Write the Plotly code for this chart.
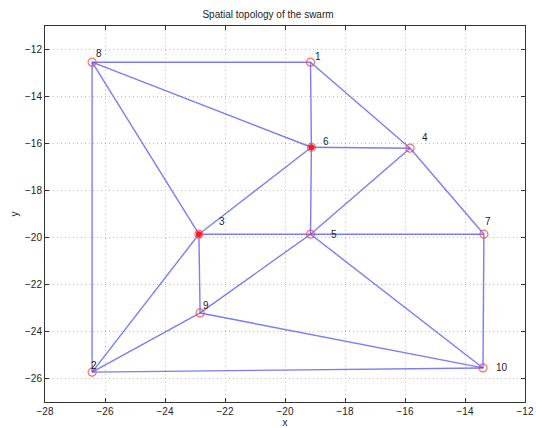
import plotly.graph_objects as go

# Agent positions in the swarm
node_ids = ["1", "2", "3", "4", "5", "6", "7", "8", "9", "10"]
node_x = [-19.15, -26.43, -22.87, -15.83, -19.15, -19.12, -13.37, -26.43, -22.83, -13.40]
node_y = [-12.54, -25.73, -19.86, -16.20, -19.86, -16.16, -19.86, -12.54, -23.21, -25.55]

# Communication links between agents (by id)
edges = [
    ("8", "1"), ("8", "6"), ("8", "3"), ("8", "2"),
    ("1", "6"), ("1", "4"),
    ("6", "4"), ("6", "3"), ("6", "5"),
    ("4", "5"), ("4", "7"),
    ("3", "5"), ("5", "7"), ("3", "9"), ("3", "2"),
    ("5", "9"), ("5", "10"),
    ("7", "10"),
    ("9", "2"), ("9", "10"),
    ("2", "10"),
]

# Agents drawn with a filled marker
filled_ids = ["3", "6"]

# Label offsets in pixels (dx, dy upward)
label_shift = {
    "1": (7, 6), "2": (2, 7), "3": (23, 13), "4": (15, 11), "5": (23, 0),
    "6": (15, 6), "7": (4, 13), "8": (7, 9), "9": (6, 7), "10": (19, 0),
}

pos = {n: (x, y) for n, x, y in zip(node_ids, node_x, node_y)}

fig = go.Figure()

ex, ey = [], []
for a, b in edges:
    ex += [pos[a][0], pos[b][0], None]
    ey += [pos[a][1], pos[b][1], None]
fig.add_trace(go.Scatter(x=ex, y=ey, mode="lines",
                         line=dict(color="rgba(80,80,240,0.75)", width=1.4),
                         hoverinfo="skip", showlegend=False))

fig.add_trace(go.Scatter(x=node_x, y=node_y, mode="markers",
                         marker=dict(symbol="circle-open", size=8,
                                     color="rgba(255,60,60,0.75)",
                                     line=dict(width=1.2)),
                         showlegend=False))

fx = [pos[n][0] for n in filled_ids]
fy = [pos[n][1] for n in filled_ids]
fig.add_trace(go.Scatter(x=fx, y=fy, mode="markers",
                         marker=dict(symbol="circle", size=6, color="rgb(240,30,40)"),
                         showlegend=False))

for n in node_ids:
    dx, dy = label_shift[n]
    fig.add_annotation(x=pos[n][0], y=pos[n][1], text=n, showarrow=False,
                       xshift=dx, yshift=dy,
                       font=dict(family="Liberation Sans, Arial", size=10, color="#222"))

axis_common = dict(
    showgrid=True, gridcolor="#bdbdbd", griddash="1px,3px", gridwidth=1,
    zeroline=False, showline=True, linecolor="#333", linewidth=1, mirror="ticks",
    ticks="inside", ticklen=4, tickcolor="#333", automargin=False,
    tickfont=dict(family="Liberation Sans, Arial", size=10, color="#222"),
)

fig.update_xaxes(range=[-28, -12], dtick=2, tick0=-28,
                 title=dict(text="x", standoff=0,
                            font=dict(family="Liberation Sans, Arial", size=10, color="#222")),
                 **axis_common)
fig.update_yaxes(range=[-27, -11], tickvals=[-26, -24, -22, -20, -18, -16, -14, -12],
                 title=dict(text="y", standoff=4,
                            font=dict(family="Liberation Sans, Arial", size=10, color="#222")),
                 **axis_common)

fig.update_layout(
    width=536, height=428,
    margin=dict(l=45, r=11, t=26, b=26),
    paper_bgcolor="white", plot_bgcolor="white",
    title=dict(text="Spatial topology of the swarm", x=0.5, xanchor="center",
               y=0.975, yanchor="top",
               font=dict(family="Liberation Sans, Arial", size=10, color="#222")),
)

fig.write_html("out.html")
